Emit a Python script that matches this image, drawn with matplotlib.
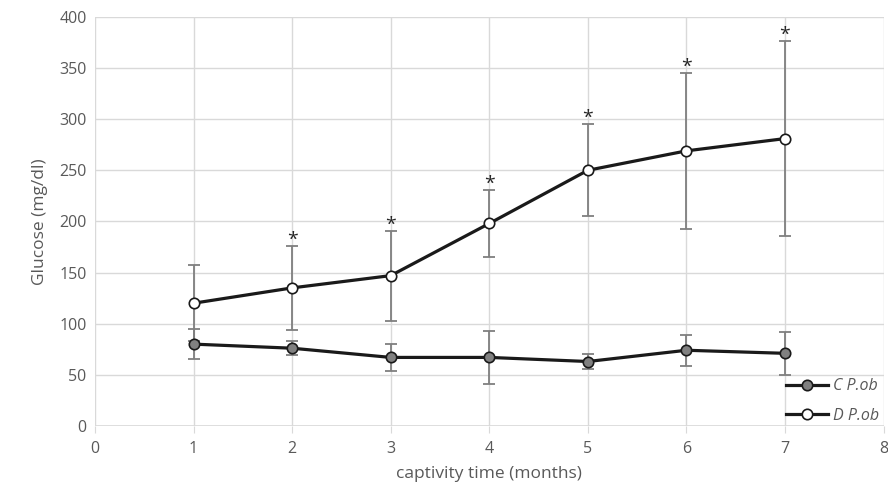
import numpy as np
import matplotlib.pyplot as plt

plt.rcParams['font.family'] = ['Open Sans', 'DejaVu Sans']

# data
months = [1, 2, 3, 4, 5, 6, 7]
c_mean = [80, 76, 67, 67, 63, 74, 71]
c_err = [14.5, 7, 13, 26, 7, 15, 21]
d_mean = [120, 135, 147, 198, 250, 269, 281]
d_err = [37, 41, 44, 32.5, 45, 76, 95]
signif = [False, True, True, True, True, True, True]

fig = plt.figure(figsize=(8.88, 4.97), dpi=100)
ax = fig.add_axes([0.107, 0.143, 0.888, 0.823])

grid_col = '#d9d9d9'
text_col = '#595959'

# error bars first so the markers sit on top
ax.errorbar(months, c_mean, yerr=c_err, fmt='none', ecolor='#7f7f7f',
            elinewidth=1.3, capsize=4, capthick=1.3, zorder=2)
ax.errorbar(months, d_mean, yerr=d_err, fmt='none', ecolor='#7f7f7f',
            elinewidth=1.3, capsize=4, capthick=1.3, zorder=2)

ax.plot(months, c_mean, color='#1a1a1a', lw=2.3, marker='o', markersize=7.5,
        markerfacecolor='#808080', markeredgecolor='#1a1a1a', markeredgewidth=1.2,
        label='C P.ob', zorder=3)
ax.plot(months, d_mean, color='#1a1a1a', lw=2.3, marker='o', markersize=7.5,
        markerfacecolor='white', markeredgecolor='#1a1a1a', markeredgewidth=1.2,
        label='D P.ob', zorder=3)

# significance stars above the upper error bars
for m, v, e, s in zip(months, d_mean, d_err, signif):
    if s:
        ax.text(m, v + e + 6, '*', ha='center', va='center', fontsize=14,
                color='#262626')

ax.set_xlim(0, 8)
ax.set_ylim(0, 400)
ax.set_xticks(range(0, 9))
ax.set_yticks(range(0, 401, 50))
ax.grid(True, color=grid_col, lw=1)
ax.set_axisbelow(True)
for sp in ax.spines.values():
    sp.set_visible(False)
ax.axhline(0, color=grid_col, lw=1.2, zorder=1)
ax.tick_params(axis='both', colors=text_col, labelsize=11.5, length=0, pad=6)
ax.tick_params(axis='x', length=5, color=grid_col, direction='out')

ax.set_xlabel('captivity time (months)', color=text_col, fontsize=12.5, labelpad=6)
ax.set_ylabel('Glucose (mg/dl)', color=text_col, fontsize=12.5, labelpad=8)

leg = ax.legend(loc='lower right', frameon=False, bbox_to_anchor=(1.012, -0.03),
                handlelength=2.6, labelspacing=0.85, handletextpad=0.3,
                prop={'style': 'italic', 'size': 11.5})
for t in leg.get_texts():
    t.set_color(text_col)

fig.savefig('out.png', dpi=100)
